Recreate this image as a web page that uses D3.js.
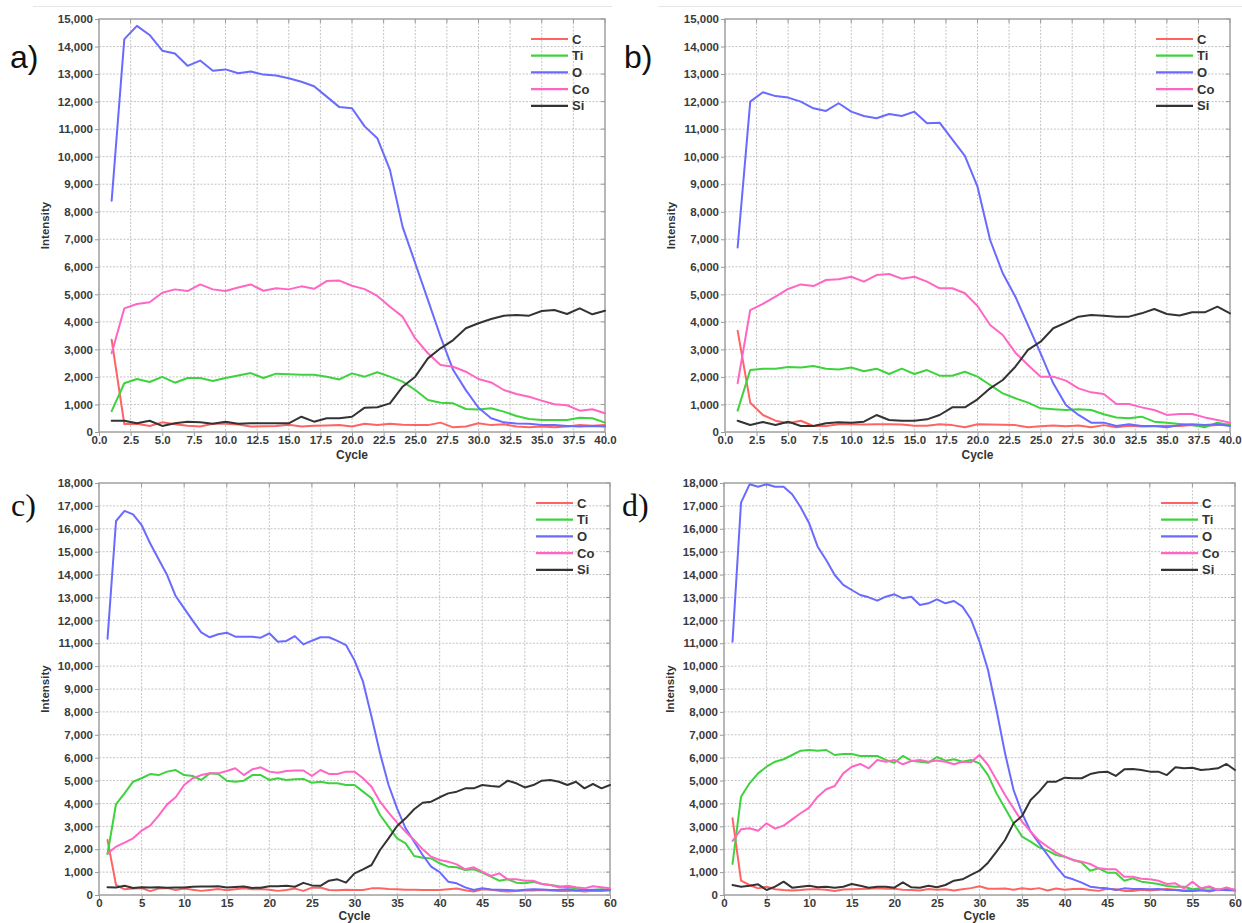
<!DOCTYPE html>
<html>
<head>
<meta charset="utf-8">
<script src="https://cdn.jsdelivr.net/npm/d3@7/dist/d3.min.js"></script>
<style>
  html, body { margin: 0; padding: 0; background: #ffffff; }
  svg { display: block; }
</style>
</head>
<body>
<svg id="fig" width="1242" height="923"></svg>
<script>
// Depth profiles: element intensity per sputter cycle, four samples (a–d).

const elements = ["C", "Ti", "O", "Co", "Si"];
const elementColors = ["#ff6464", "#3fd23f", "#6a6aff", "#ff66c4", "#333333"];

const cycles40 = [1,2,3,4,5,6,7,8,9,10,11,12,13,14,15,16,17,18,19,20,
                  21,22,23,24,25,26,27,28,29,30,31,32,33,34,35,36,37,38,39,40];
const cycles60 = [1,2,3,4,5,6,7,8,9,10,11,12,13,14,15,16,17,18,19,20,
                  21,22,23,24,25,26,27,28,29,30,31,32,33,34,35,36,37,38,39,40,
                  41,42,43,44,45,46,47,48,49,50,51,52,53,54,55,56,57,58,59,60];

const xTicks40 = [0,2.5,5,7.5,10,12.5,15,17.5,20,22.5,25,27.5,30,32.5,35,37.5,40];
const xTicks60 = [0,5,10,15,20,25,30,35,40,45,50,55,60];
const yTicks15k = [0,1000,2000,3000,4000,5000,6000,7000,8000,9000,10000,11000,12000,13000,14000,15000];
const yTicks18k = [0,1000,2000,3000,4000,5000,6000,7000,8000,9000,10000,11000,12000,13000,14000,15000,16000,17000,18000];

// Sample a
const aC  = [3350,290,300,220,350,280,230,200,300,300,270,200,210,220,260,200,230,240,250,200,
             300,250,300,260,250,250,340,170,200,320,250,280,200,170,200,170,200,250,230,250];
const aTi = [760,1770,1925,1815,2000,1790,1960,1960,1850,1960,2050,2140,1960,2120,2095,2080,2080,2010,1910,2130,
             2010,2170,2010,1830,1525,1160,1065,1040,835,820,860,740,580,470,435,435,435,520,500,340];
const aO  = [8400,14270,14750,14420,13850,13750,13300,13490,13120,13170,13030,13090,12980,12950,12850,12720,12560,12180,11800,11760,
             11100,10670,9520,7450,6130,4800,3460,2250,1520,880,500,350,310,300,250,250,220,200,220,200];
const aCo = [2860,4490,4650,4710,5060,5180,5120,5360,5180,5120,5250,5360,5130,5220,5180,5290,5200,5480,5500,5310,
             5190,4940,4550,4190,3400,2860,2430,2370,2190,1925,1800,1525,1380,1283,1140,1005,970,775,825,680];
const aSi = [410,410,315,410,220,315,375,350,300,375,300,315,315,315,315,555,375,500,500,555,
             885,900,1040,1645,2010,2675,3040,3340,3767,3950,4105,4225,4250,4225,4395,4430,4285,4490,4275,4405];

// Sample b
const bC  = [3680,1065,617,410,315,410,218,218,280,280,270,280,280,270,230,230,280,250,170,280,
             270,260,250,170,210,240,210,240,170,250,170,230,200,210,230,220,250,220,250,280];
const bTi = [775,2250,2300,2300,2360,2340,2400,2300,2270,2340,2205,2300,2107,2300,2107,2250,2045,2045,2190,2010,
             1707,1405,1224,1065,860,825,800,825,800,643,530,497,557,375,340,290,250,170,340,250];
const bO  = [6700,12000,12340,12200,12145,12000,11757,11660,11940,11635,11478,11394,11550,11478,11635,11213,11235,10630,10025,8910,
             6974,5765,4915,3885,2858,1770,980,620,340,340,220,280,220,220,170,250,280,250,280,220];
const bCo = [1770,4430,4650,4915,5195,5360,5300,5520,5545,5640,5460,5700,5740,5570,5640,5460,5220,5220,5040,4577,
             3887,3523,2880,2434,2010,2010,1865,1585,1440,1380,1017,1017,895,800,620,655,655,530,435,340];
const bSi = [410,254,363,254,375,218,218,315,352,340,375,617,435,410,410,460,617,897,897,1187,
             1587,1890,2372,2980,3280,3767,3970,4190,4250,4225,4190,4190,4310,4468,4286,4230,4347,4347,4553,4310];

// Sample c
const cC  = [2400,437,250,280,300,170,280,300,220,280,230,180,220,260,210,250,290,250,260,230,
             180,220,280,180,320,330,220,210,230,220,220,290,290,260,250,230,230,220,220,220,
             250,280,210,150,250,230,180,150,170,200,200,220,200,180,180,200,150,190,170,200];
const cTi = [1790,3975,4440,4950,5100,5285,5240,5390,5460,5240,5200,5025,5315,5285,4995,4950,4995,5240,5240,5025,
             5100,5025,5055,5070,4900,4950,4880,4880,4805,4805,4515,4225,3495,2985,2475,2257,1704,1630,1600,1385,
             1238,1210,1092,1120,975,800,625,685,538,510,580,480,437,380,335,290,220,220,250,220];
const cO  = [11200,16340,16780,16630,16165,15365,14665,13980,13063,12525,11985,11477,11260,11390,11460,11285,11285,11285,11240,11433,
             11068,11100,11310,10950,11110,11260,11260,11100,10920,10250,9320,7790,6190,4805,3787,2913,2330,1748,1238,1000,
             583,510,335,220,300,240,230,220,200,230,250,240,220,230,250,200,220,230,220,230];
const cCo = [1820,2110,2285,2475,2810,3030,3465,3960,4270,4805,5100,5240,5315,5315,5420,5535,5240,5490,5580,5390,
             5340,5420,5440,5440,5200,5460,5290,5290,5390,5390,5100,4730,4077,3597,3160,2767,2403,1995,1675,1530,
             1457,1340,1122,1210,1020,830,945,685,685,625,625,480,437,335,400,335,290,380,335,290];
const cSi = [340,330,400,310,340,330,340,320,330,330,360,370,370,380,330,350,370,310,320,380,
             380,400,360,530,420,400,625,685,538,945,1122,1310,1966,2475,3015,3350,3745,4033,4077,4270,
             4440,4515,4660,4660,4805,4760,4730,4995,4880,4700,4805,4995,5025,4950,4805,4950,4660,4850,4660,4805];

// Sample d
const dC  = [3350,625,437,290,363,250,220,200,220,250,250,230,175,240,250,260,270,290,270,270,
             230,220,200,260,230,250,200,250,300,380,270,270,280,230,290,250,300,200,280,230,
             260,270,220,180,270,250,180,170,230,200,230,260,230,200,220,230,150,240,210,230];
const dTi = [1355,4295,4880,5315,5605,5825,5930,6116,6305,6335,6305,6335,6116,6160,6160,6073,6073,6073,5900,5780,
             6073,5870,5825,5780,6030,5870,5930,5825,5900,5750,5240,4440,3785,3130,2550,2330,2080,1937,1748,1675,
             1530,1413,1063,1165,975,975,625,727,582,538,480,394,363,363,250,290,335,220,290,220];
const dO  = [11068,17140,17943,17840,17943,17840,17840,17506,16938,16240,15218,14635,13980,13545,13325,13107,13005,12860,13033,13137,
             12962,13033,12670,12744,12918,12744,12845,12597,12045,11068,9830,8082,6190,4587,3570,2767,2257,1748,1238,800,
             685,538,363,320,290,220,290,260,260,250,260,220,220,175,180,200,200,230,220,200];
const dCo = [2360,2870,2913,2810,3130,2900,3030,3305,3570,3815,4295,4620,4760,5315,5605,5725,5535,5900,5825,5900,
             5710,5855,5900,5825,5880,5825,5710,5825,5800,6116,5680,5025,4370,3785,3203,2767,2374,2110,1850,1675,
             1530,1457,1355,1165,1122,1122,800,800,713,685,625,480,510,290,582,290,380,220,335,220];
const dSi = [437,363,400,466,220,363,582,320,363,407,335,363,320,363,480,400,320,363,363,320,
             553,335,320,400,340,437,625,685,875,1063,1413,1893,2403,3130,3450,4150,4515,4950,4950,5125,
             5100,5100,5285,5360,5390,5200,5490,5505,5460,5390,5390,5240,5580,5535,5560,5460,5490,5535,5725,5460];

const panels = [
  { tag: "a)", tagFont: "'Liberation Sans', Arial, sans-serif", tagX: 10, tagY: 57,
    box: { l: 99, r: 605, t: 19, b: 432 }, cycles: cycles40, xMax: 40, xTicks: xTicks40, xFmt: d3.format(".1f"),
    yMax: 15000, yTicks: yTicks15k, series: [aC, aTi, aO, aCo, aSi], titleGap: 27 },
  { tag: "b)", tagFont: "'Liberation Sans', Arial, sans-serif", tagX: 624, tagY: 57,
    box: { l: 725, r: 1230, t: 19, b: 432 }, cycles: cycles40, xMax: 40, xTicks: xTicks40, xFmt: d3.format(".1f"),
    yMax: 15000, yTicks: yTicks15k, series: [bC, bTi, bO, bCo, bSi], titleGap: 27 },
  { tag: "c)", tagFont: "'Liberation Serif', 'Times New Roman', serif", tagX: 11, tagY: 505,
    box: { l: 99, r: 610, t: 483, b: 895 }, cycles: cycles60, xMax: 60, xTicks: xTicks60, xFmt: d3.format("d"),
    yMax: 18000, yTicks: yTicks18k, series: [cC, cTi, cO, cCo, cSi], titleGap: 25 },
  { tag: "d)", tagFont: "'Liberation Serif', 'Times New Roman', serif", tagX: 622, tagY: 505,
    box: { l: 724, r: 1235, t: 483, b: 895 }, cycles: cycles60, xMax: 60, xTicks: xTicks60, xFmt: d3.format("d"),
    yMax: 18000, yTicks: yTicks18k, series: [dC, dTi, dO, dCo, dSi], titleGap: 25 }
];

const svg = d3.select("#fig");
const labelFont = "'Liberation Sans', Arial, Helvetica, sans-serif";

// faint separator lines along the top edge
svg.append("line").attr("x1", 33).attr("x2", 612).attr("y1", 6.5).attr("y2", 6.5)
  .attr("stroke", "#e6e6e6").attr("stroke-width", 1.2);
svg.append("line").attr("x1", 658).attr("x2", 1242).attr("y1", 6.5).attr("y2", 6.5)
  .attr("stroke", "#e6e6e6").attr("stroke-width", 1.2);

panels.forEach(p => {
  const { l, r, t, b } = p.box;
  const x = d3.scaleLinear().domain([0, p.xMax]).range([l, r]);
  const y = d3.scaleLinear().domain([0, p.yMax]).range([b, t]);
  const g = svg.append("g");

  // grid
  const grid = g.append("g").attr("stroke", "#c4c4c4").attr("stroke-width", 1)
    .attr("stroke-dasharray", "2,1.5");
  grid.selectAll(".gx").data(p.xTicks.slice(1, -1)).join("line")
    .attr("x1", d => x(d)).attr("x2", d => x(d)).attr("y1", t).attr("y2", b);
  grid.selectAll(".gy").data(p.yTicks.slice(1, -1)).join("line")
    .attr("x1", l).attr("x2", r).attr("y1", d => y(d)).attr("y2", d => y(d));

  // inner ticks on right and top borders
  const inner = g.append("g").attr("stroke", "#999").attr("stroke-width", 1);
  inner.selectAll(".tr").data(p.yTicks).join("line")
    .attr("x1", r - 4).attr("x2", r).attr("y1", d => y(d)).attr("y2", d => y(d));
  inner.selectAll(".tt").data(p.xTicks).join("line")
    .attr("x1", d => x(d)).attr("x2", d => x(d)).attr("y1", t).attr("y2", t + 4);

  // axes
  const yAxis = g.append("g").attr("transform", `translate(${l},0)`)
    .call(d3.axisLeft(y).tickValues(p.yTicks).tickFormat(d3.format(",")).tickSize(4).tickPadding(2));
  const xAxis = g.append("g").attr("transform", `translate(0,${b})`)
    .call(d3.axisBottom(x).tickValues(p.xTicks).tickFormat(p.xFmt).tickSize(4).tickPadding(0));
  [yAxis, xAxis].forEach(ax => {
    ax.select(".domain").remove();
    ax.selectAll(".tick line").attr("stroke", "#999");
    ax.selectAll(".tick text").attr("fill", "#3a3a3a").attr("font-family", labelFont)
      .attr("font-weight", "bold").attr("font-size", 11.5);
  });

  // frame
  g.append("rect").attr("x", l).attr("y", t).attr("width", r - l).attr("height", b - t)
    .attr("fill", "none").attr("stroke", "#a0a0a0").attr("stroke-width", 1.5);

  // series
  const line = d3.line().x((d, i) => x(p.cycles[i])).y(d => y(d));
  p.series.forEach((vals, k) => {
    g.append("path").datum(vals).attr("d", line).attr("fill", "none")
      .attr("stroke", elementColors[k]).attr("stroke-width", 2)
      .attr("stroke-linejoin", "round").attr("stroke-linecap", "round");
  });

  // legend
  const lg = g.append("g").attr("transform", `translate(${r - 74},${t + 20})`);
  elements.forEach((name, k) => {
    const yy = k * 16.7;
    lg.append("line").attr("x1", 0).attr("x2", 37).attr("y1", yy).attr("y2", yy)
      .attr("stroke", elementColors[k]).attr("stroke-width", 2.2);
    lg.append("text").attr("x", 41).attr("y", yy).attr("dy", "0.36em")
      .attr("font-family", labelFont).attr("font-weight", "bold").attr("font-size", 13)
      .attr("fill", "#333").text(name);
  });

  // axis titles
  g.append("text").attr("transform", `translate(${l - 50},${(t + b) / 2}) rotate(-90)`)
    .attr("text-anchor", "middle").attr("font-family", labelFont).attr("font-weight", "bold")
    .attr("font-size", 11.5).attr("fill", "#333").text("Intensity");
  g.append("text").attr("x", (l + r) / 2).attr("y", b + p.titleGap).attr("text-anchor", "middle")
    .attr("font-family", labelFont).attr("font-weight", "bold").attr("font-size", 12)
    .attr("fill", "#333").text("Cycle");

  // panel tag
  svg.append("text").attr("x", p.tagX).attr("y", p.tagY).attr("dy", "0.35em")
    .attr("font-family", p.tagFont).attr("font-size", 32).attr("fill", "#111").text(p.tag);
});
</script>
</body>
</html>
